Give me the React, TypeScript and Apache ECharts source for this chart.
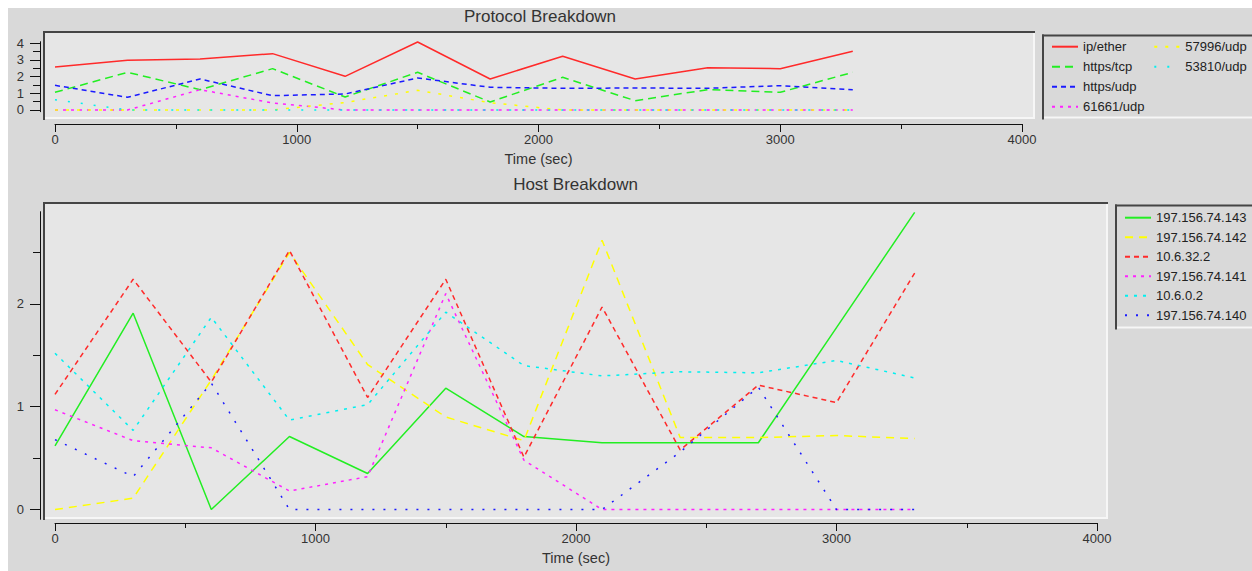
import React, { useEffect, useRef } from "react";
import * as echarts from "echarts";

const FONT = '"Liberation Sans", Arial, Helvetica, sans-serif';

// time points (sec)
const times = [0, 300, 600, 900, 1200, 1500, 1800, 2100, 2400, 2700, 3000, 3300];

// Protocol Breakdown
const protoNames = ["ip/ether", "https/tcp", "https/udp", "61661/udp", "57996/udp", "53810/udp"];
const ipEther = [2.58, 2.98, 3.06, 3.38, 2.02, 4.08, 1.86, 3.22, 1.86, 2.54, 2.48, 3.52];
const httpsTcp = [1.06, 2.26, 1.22, 2.48, 0.78, 2.26, 0.48, 1.96, 0.56, 1.22, 1.06, 2.26];
const httpsUdp = [1.48, 0.76, 1.86, 0.86, 0.96, 1.92, 1.36, 1.3, 1.32, 1.3, 1.46, 1.22];
const udp61661 = [0, 0, 1.22, 0.42, 0, 0, 0, 0, 0, 0, 0, 0];
const udp57996 = [0, 0, 0, 0, 0.45, 1.18, 0.44, 0, 0, 0, 0, 0];
const udp53810 = [0.62, 0, 0, 0, 0, 0, 0, 0, 0, 0, 0, 0];

// Host Breakdown
const hostNames = ["197.156.74.143", "197.156.74.142", "10.6.32.2", "197.156.74.141", "10.6.0.2", "197.156.74.140"];
const h143 = [0.62, 1.91, 0, 0.71, 0.35, 1.18, 0.71, 0.65, 0.65, 0.65, 1.77, 2.89];
const h142 = [0, 0.11, 1.26, 2.5, 1.41, 0.9, 0.67, 2.62, 0.7, 0.7, 0.72, 0.69];
const h10632 = [1.12, 2.24, 1.24, 2.52, 1.09, 2.24, 0.51, 1.97, 0.58, 1.21, 1.04, 2.3];
const h141 = [0.97, 0.67, 0.6, 0.18, 0.32, 2.1, 0.48, 0, 0, 0, 0, 0];
const h1060 = [1.52, 0.77, 1.87, 0.87, 1.02, 1.92, 1.4, 1.3, 1.34, 1.33, 1.45, 1.28];
const h140 = [0.68, 0.32, 1.23, 0, 0, 0, 0, 0, 0.56, 1.19, 0, 0];

// ticks
const xLabelTicks = [0, 1000, 2000, 3000, 4000];
const protoYLabels = [0, 1, 2, 3, 4];
const protoYMinor = [0.5, 1.5, 2.5, 3.5];
const hostYLabels = [0, 1, 2];
const hostYMinor = [0.5, 1.5, 2.5];

const RED = "#ff2a2a";
const GREEN = "#22ee22";
const BLUE = "#1a1aff";
const MAGENTA = "#ff22ff";
const YELLOW = "#ffff00";
const CYAN = "#00f0f0";

function frame(x1: number, y1: number, x2: number, y2: number, fill: string) {
  return [
    { type: "rect", silent: true, z: 0, shape: { x: x1, y: y1, width: x2 - x1, height: y2 - y1 }, style: { fill } },
    { type: "line", silent: true, z: 1, shape: { x1: x1, y1: y2 - 1, x2: x2, y2: y2 - 1 }, style: { stroke: "#f6f6f6", lineWidth: 2 } },
    { type: "line", silent: true, z: 1, shape: { x1: x2 - 1, y1: y1, x2: x2 - 1, y2: y2 }, style: { stroke: "#f6f6f6", lineWidth: 2 } },
    { type: "line", silent: true, z: 1, shape: { x1: x1, y1: y1 + 1, x2: x2, y2: y1 + 1 }, style: { stroke: "#454545", lineWidth: 2 } },
    { type: "line", silent: true, z: 1, shape: { x1: x1 + 1, y1: y1, x2: x1 + 1, y2: y2 + 1 }, style: { stroke: "#454545", lineWidth: 2 } },
  ];
}

function pairs(vals: number[]) {
  return times.map((t, i) => [t, vals[i]]);
}

function lineSeries(name: string, vals: number[], color: string, type: any, grid: number) {
  return {
    type: "line",
    name,
    data: pairs(vals),
    xAxisIndex: grid,
    yAxisIndex: grid * 2,
    symbol: "none",
    showSymbol: false,
    lineStyle: { color, width: 1.5, type },
    itemStyle: { color },
    z: 3,
  };
}

const axisText = { color: "#333", fontSize: 13, fontFamily: FONT };
const plain = (v: number) => String(v);

function xAxisDef(grid: number, offset: number) {
  return {
    type: "value",
    gridIndex: grid,
    min: 0,
    max: 4000,
    interval: 1000,
    offset,
    name: "Time (sec)",
    nameLocation: "middle",
    nameGap: 27,
    nameTextStyle: { color: "#333", fontSize: 14.5, fontFamily: FONT },
    axisLine: { show: true, onZero: false, lineStyle: { color: "#111", width: 1 } },
    axisTick: { show: true, length: 8, lineStyle: { color: "#111", width: 1 } },
    minorTick: { show: true, splitNumber: 2, length: 5, lineStyle: { color: "#111", width: 1 } },
    axisLabel: { ...axisText, margin: 9, customValues: xLabelTicks, formatter: plain },
    splitLine: { show: false },
    minorSplitLine: { show: false },
  };
}

function yAxisDefs(grid: number, min: number, max: number, labels: number[], minor: number[]) {
  return [
    {
      type: "value",
      gridIndex: grid,
      min,
      max,
      offset: 15,
      position: "left",
      axisLine: { show: true, onZero: false, lineStyle: { color: "#111", width: 1 } },
      axisTick: { show: true, length: 10, customValues: labels, lineStyle: { color: "#111", width: 1 } },
      axisLabel: { ...axisText, margin: 16, customValues: labels, formatter: plain },
      splitLine: { show: false },
    },
    {
      type: "value",
      gridIndex: grid,
      min,
      max,
      offset: 15,
      position: "left",
      axisLine: { show: false, onZero: false },
      axisTick: { show: true, length: 7, customValues: minor, lineStyle: { color: "#111", width: 1 } },
      axisLabel: { show: false },
      splitLine: { show: false },
    },
  ];
}

const legendText = { color: "#222", fontSize: 13, fontFamily: FONT, lineHeight: 14 };
const legendCommon = {
  orient: "vertical",
  padding: 0,
  itemWidth: 26,
  itemHeight: 14,
  icon: "inherit",
  itemStyle: { opacity: 0 },
  textStyle: legendText,
  selectedMode: false,
};

export default function App() {
  const ref = useRef<HTMLDivElement>(null);

  useEffect(() => {
    if (!ref.current) return;
    const chart = echarts.init(ref.current, null, { renderer: "svg" });

    const protoSeries = [
      lineSeries(protoNames[0], ipEther, RED, "solid", 0),
      lineSeries(protoNames[1], httpsTcp, GREEN, [8, 5], 0),
      lineSeries(protoNames[2], httpsUdp, BLUE, [5, 4], 0),
      lineSeries(protoNames[3], udp61661, MAGENTA, [3, 5], 0),
      lineSeries(protoNames[4], udp57996, YELLOW, [3, 8], 0),
      lineSeries(protoNames[5], udp53810, CYAN, [2, 11], 0),
    ];
    const hostSeries = [
      lineSeries(hostNames[0], h143, GREEN, "solid", 1),
      lineSeries(hostNames[1], h142, YELLOW, [8, 6], 1),
      lineSeries(hostNames[2], h10632, RED, [5, 4], 1),
      lineSeries(hostNames[3], h141, MAGENTA, [3, 5], 1),
      lineSeries(hostNames[4], h1060, CYAN, [3, 6], 1),
      lineSeries(hostNames[5], h140, BLUE, [2, 9], 1),
    ];

    const option: any = {
      animation: false,
      backgroundColor: "#d9d9d9",
      grid: [
        { left: 47, top: 33.7, width: 967, height: 70 },
        { left: 47, top: 203.7, width: 1042, height: 307.6 },
      ],
      xAxis: [xAxisDef(0, 12.3), xAxisDef(1, 3.7)],
      yAxis: [
        ...yAxisDefs(0, -0.102, 4.096, protoYLabels, protoYMinor),
        ...yAxisDefs(1, -0.095, 2.897, hostYLabels, hostYMinor),
      ],
      legend: [
        { ...legendCommon, left: 1043, top: 31.7, itemGap: 6, data: protoNames.slice(0, 4) },
        { ...legendCommon, left: 1145.3, top: 31.7, itemGap: 6, data: protoNames.slice(4) },
        { ...legendCommon, left: 1116, top: 202.7, itemGap: 5.5, data: hostNames },
      ],
      graphic: [
        ...frame(35, 23, 1027, 111, "#e6e6e6"),
        ...frame(35, 194, 1100, 511, "#e6e6e6"),
        ...frame(1034, 26.5, 1256, 110.5, "#d9d9d9"),
        ...frame(1107, 196.5, 1256, 320.5, "#d9d9d9"),
        {
          type: "text",
          x: 532,
          y: 8.5,
          z: 2,
          silent: true,
          style: { text: "Protocol Breakdown", fontSize: 17, fontFamily: FONT, fill: "#333", align: "center", verticalAlign: "middle" },
        },
        {
          type: "text",
          x: 567.5,
          y: 176.1,
          z: 2,
          silent: true,
          style: { text: "Host Breakdown", fontSize: 17, fontFamily: FONT, fill: "#333", align: "center", verticalAlign: "middle" },
        },
      ],
      series: [...protoSeries, ...hostSeries],
    };

    chart.setOption(option);
    return () => chart.dispose();
  }, []);

  return (
    <div
      ref={ref}
      style={{ position: "fixed", left: 8, top: 8, width: 1244, height: 563 }}
    />
  );
}
